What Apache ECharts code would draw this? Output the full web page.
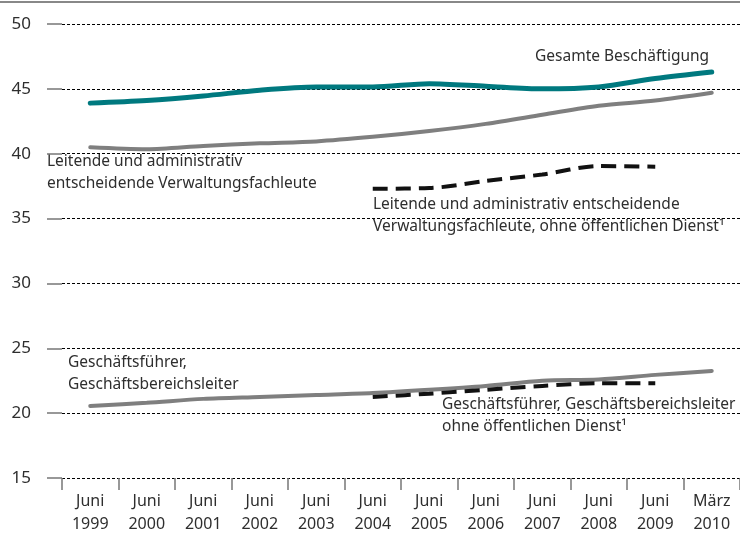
<!DOCTYPE html>
<html>
<head>
<meta charset="utf-8">
<script src="https://cdn.jsdelivr.net/npm/echarts@6/dist/echarts.min.js"></script>
<style>
  html, body { margin: 0; padding: 0; background: #fff; }
  #chart { width: 740px; height: 538px; }
</style>
</head>
<body>
<div id="chart"></div>
<script>
// Kategorien (Stichtage)
const categories = ['Juni\n1999', 'Juni\n2000', 'Juni\n2001', 'Juni\n2002', 'Juni\n2003', 'Juni\n2004',
  'Juni\n2005', 'Juni\n2006', 'Juni\n2007', 'Juni\n2008', 'Juni\n2009', 'März\n2010']

// Werte in Jahren
const gesamt = [43.9, 44.1, 44.45, 44.9, 45.15, 45.15, 45.4, 45.2, 45.0, 45.15, 45.8, 46.3]
const leitende = [40.5, 40.35, 40.6, 40.8, 40.95, 41.3, 41.75, 42.3, 43.0, 43.7, 44.1, 44.7]
const leitendeOhneOeD = [null, null, null, null, null, 37.3, 37.35, 37.9, 38.4, 39.05, 39.0, null]
const gf = [20.55, 20.8, 21.1, 21.25, 21.4, 21.55, 21.8, 22.1, 22.5, 22.6, 22.95, 23.25]
const gfOhneOeD = [null, null, null, null, null, 21.25, 21.5, 21.8, 22.1, 22.3, 22.3, null]

const yMin = 15
const yMax = 50
const yStep = 5

const font = 'Noto Sans'
const textColor = '#2e2e2e'

const chart = echarts.init(document.getElementById('chart'))

function note(left, top, text) {
  return {
    type: 'text', left: left, top: top,
    style: { text: text, font: '15.5px "' + font + '"', fill: textColor, lineHeight: 22 }
  }
}

chart.setOption({
  backgroundColor: '#fff',
  animation: false,
  grid: { left: 62, right: -1, top: 24, bottom: 60 },
  xAxis: {
    type: 'category',
    data: categories,
    boundaryGap: true,
    axisLine: { show: false },
    axisTick: { show: true, length: 12, lineStyle: { color: '#777', width: 1.5 } },
    axisLabel: { color: textColor, fontFamily: font, fontSize: 16, lineHeight: 23, margin: 12 },
    splitLine: { show: false }
  },
  yAxis: {
    type: 'value',
    min: yMin, max: yMax, interval: yStep,
    axisLine: { show: false },
    axisTick: { show: true, length: 15, lineStyle: { color: '#777', width: 1.5 } },
    axisLabel: { color: textColor, fontFamily: font, fontSize: 17, margin: 31 },
    splitLine: { show: true, lineStyle: { color: '#000', width: 1, type: [3, 2] } }
  },
  series: [
    {
      name: 'Gesamte Beschäftigung', type: 'line', data: gesamt, smooth: 0.3,
      symbol: 'none', lineStyle: { color: '#00797f', width: 5, cap: 'round' }
    },
    {
      name: 'Leitende', type: 'line', data: leitende, smooth: 0.3,
      symbol: 'none', lineStyle: { color: '#7f7f7f', width: 4, cap: 'round' }
    },
    {
      name: 'Geschäftsführer', type: 'line', data: gf, smooth: 0.3,
      symbol: 'none', lineStyle: { color: '#7f7f7f', width: 4, cap: 'round' }
    },
    {
      name: 'Leitende ohne öD', type: 'line', data: leitendeOhneOeD, smooth: 0.3,
      symbol: 'none', lineStyle: { color: '#111', width: 4, type: [15, 8] }
    },
    {
      name: 'GF ohne öD', type: 'line', data: gfOhneOeD, smooth: 0.3,
      symbol: 'none', lineStyle: { color: '#111', width: 4, type: [15, 8] }
    }
  ],
  graphic: [
    { type: 'line', shape: { x1: 0, y1: 2, x2: 740, y2: 2 }, style: { stroke: '#888', lineWidth: 2 } },
    note(535, 46, 'Gesamte Beschäftigung'),
    note(47, 151, 'Leitende und administrativ\nentscheidende Verwaltungsfachleute'),
    note(373, 194, 'Leitende und administrativ entscheidende\nVerwaltungsfachleute, ohne öffentlichen Dienst¹'),
    note(68, 352, 'Geschäftsführer,\nGeschäftsbereichsleiter'),
    note(442, 394, 'Geschäftsführer, Geschäftsbereichsleiter\nohne öffentlichen Dienst¹')
  ]
})
</script>
</body>
</html>
